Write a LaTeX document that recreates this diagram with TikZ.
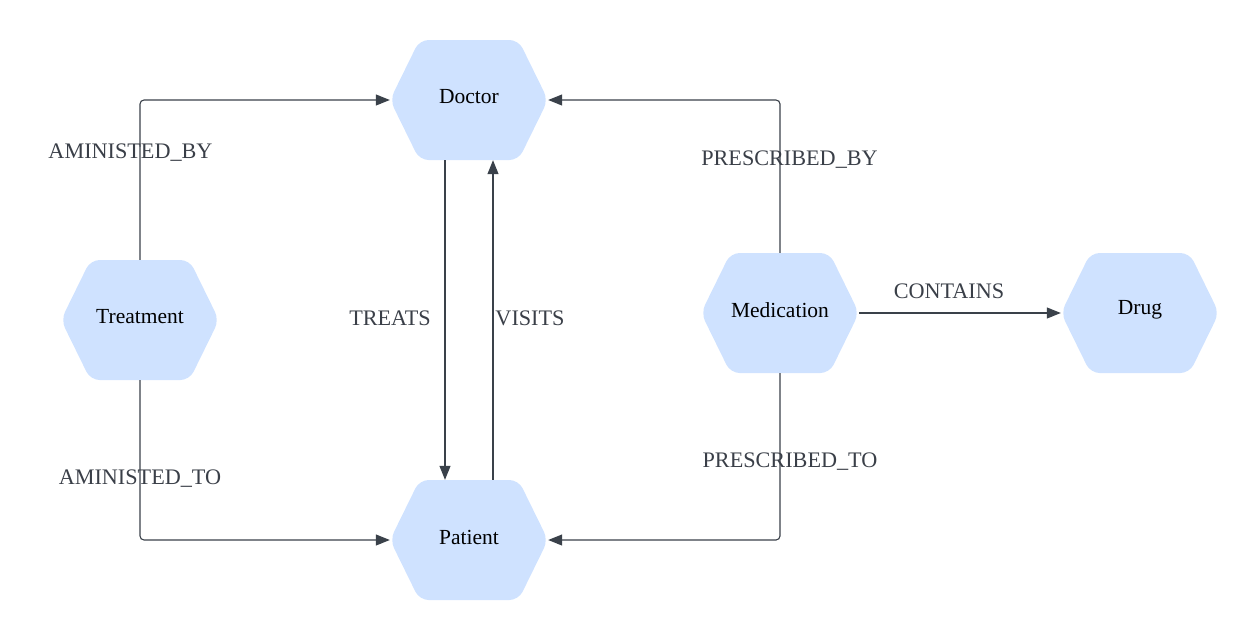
\documentclass[tikz,border=0pt]{standalone}
\usepackage{fontspec}
\setmainfont{Liberation Serif}
\usetikzlibrary{arrows.meta}
\definecolor{hexfill}{RGB}{207,226,255}
\definecolor{linegray}{RGB}{58,65,74}
\definecolor{labgray}{RGB}{58,63,72}
\begin{document}
\begin{tikzpicture}[x=1pt,y=-1pt,
  hexshape/.style={fill=hexfill, rounded corners=9pt},
  hexbox/.style={draw=none, minimum width=158pt, minimum height=120pt, inner sep=0pt,
    font=\fontsize{21.5}{26}\selectfont, text=black},
  hextext/.style={font=\fontsize{21.5}{26}\selectfont, text=black, inner sep=0pt},
  conn/.style={draw=linegray, line width=1.1pt, rounded corners=4pt,
    -{Triangle[length=14pt,width=11pt]}},
  lab/.style={font=\fontsize{22.2}{26}\selectfont, text=labgray, inner sep=0pt}]
\useasboundingbox (0,0) rectangle (1260,640);
\newcommand{\hexat}[2]{\fill[hexshape, shift={(#1,#2)}] (-79,0) -- (-49.5,-60) -- (49.5,-60) -- (79,0) -- (49.5,60) -- (-49.5,60) -- cycle;}
% hexagons
\hexat{469}{100}
\hexat{469}{540}
\hexat{140}{320}
\hexat{780}{313}
\hexat{1140}{313}
\node[hexbox] (doc) at (469,100) {};
\node[hexbox] (pat) at (469,540) {};
\node[hexbox] (treat) at (140,320) {};
\node[hexbox] (med) at (780,313) {};
\node[hexbox] (drug) at (1140,313) {};
\node[hextext] (tdoc) at (469,97) {Doctor};
\node[hextext] (tpat) at (469,537) {Patient};
\node[hextext] (ttreat) at (140,317) {Treatment};
\node[hextext] (tmed) at (780,310) {Medication};
\node[hextext] (tdrug) at (1140,310) {Drug};
% connectors
\draw[conn] (treat.north) |- (doc.west);
\draw[conn] (treat.south) |- (pat.west);
\draw[conn] (med.north) |- (doc.east);
\draw[conn] (med.south) |- (pat.east);
\draw[conn] ([xshift=-24pt]doc.south) -- ([xshift=-24pt]pat.north);
\draw[conn] ([xshift=24pt]pat.north) -- ([xshift=24pt]doc.south);
\draw[conn] (med.east) -- (drug.west);
% labels
\node[lab] (l1) at (130.5,153) {AMINISTED\_BY};
\node[lab] (l2) at (140,479) {AMINISTED\_TO};
\node[lab] (l3) at (789.5,160) {PRESCRIBED\_BY};
\node[lab] (l4) at (790,462) {PRESCRIBED\_TO};
\node[lab] (l5) at (390,318) {TREATS};
\node[lab] (l6) at (530,318) {VISITS};
\node[lab] (l7) at (949,291) {CONTAINS};
\end{tikzpicture}
\end{document}
